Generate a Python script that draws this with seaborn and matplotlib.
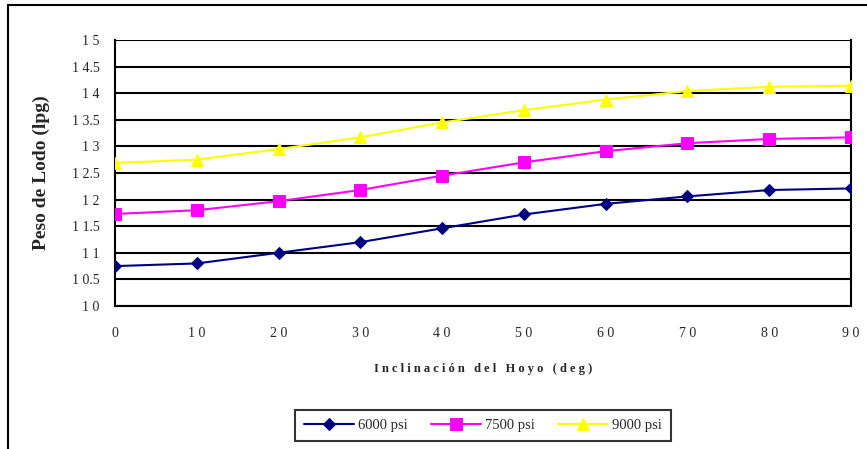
import matplotlib
matplotlib.use("Agg")
import matplotlib.pyplot as plt
import seaborn as sns
import pandas as pd
from matplotlib.patches import Rectangle

inclinacion = [0, 10, 20, 30, 40, 50, 60, 70, 80, 90]
psi_6000 = [10.75, 10.80, 11.00, 11.20, 11.46, 11.72, 11.92, 12.06, 12.18, 12.21]
psi_7500 = [11.73, 11.80, 11.97, 12.18, 12.45, 12.70, 12.91, 13.06, 13.14, 13.17]
psi_9000 = [12.69, 12.75, 12.95, 13.17, 13.45, 13.68, 13.88, 14.04, 14.12, 14.14]
series_names = ["6000 psi", "7500 psi", "9000 psi"]
y_ticks = [10, 10.5, 11, 11.5, 12, 12.5, 13, 13.5, 14, 14.5, 15]
y_tick_labels = ["1 0", "1 0.5", "1 1", "1 1.5", "1 2", "1 2.5", "1 3", "1 3.5", "1 4", "1 4.5", "1 5"]
x_ticks = [0, 10, 20, 30, 40, 50, 60, 70, 80, 90]
x_tick_labels = ["0", "1 0", "2 0", "3 0", "4 0", "5 0", "6 0", "7 0", "8 0", "9 0"]

sns.set_style("white")
plt.rcParams["font.family"] = ["Liberation Serif", "DejaVu Serif"]

fig = plt.figure(figsize=(8.67, 4.49), dpi=100)
ax = fig.add_axes([115 / 867, 1 - 306 / 449, (851 - 115) / 867, (306 - 40) / 449])

colors = ["#000080", "#FF00FF", "#FFFF00"]
markers = ["D", "s", "^"]
msizes = [6.5, 8.5, 8.5]
data = [psi_6000, psi_7500, psi_9000]
for name, vals, c, m, ms in zip(series_names, data, colors, markers, msizes):
    df = pd.DataFrame({"x": inclinacion, "y": vals})
    sns.lineplot(data=df, x="x", y="y", ax=ax, color=c, marker=m, markersize=ms,
                 markeredgecolor=c, linewidth=1.5, label=name, zorder=3)

ax.set_xlim(0, 90)
ax.set_ylim(10, 15)
ax.set_yticks(y_ticks)
ax.set_yticklabels(y_tick_labels, fontsize=10)
ax.set_xticks(x_ticks)
ax.set_xticklabels(x_tick_labels, fontsize=10)
ax.yaxis.grid(True, color="black", linewidth=1.5)
ax.xaxis.grid(False)
for s in ax.spines.values():
    s.set_color("black")
    s.set_linewidth(1.5)
ax.spines["top"].set_visible(False)
ax.tick_params(axis="both", direction="out", length=5, width=1.5, color="black", pad=6)
ax.tick_params(axis="x", pad=10)

ax.set_ylabel("Peso de Lodo (lpg)", fontsize=14, fontweight="bold", labelpad=16)
ax.set_xlabel("I n c l i n a c i ó n   d e l   H o y o   ( d e g )", fontsize=9,
              fontweight="bold", labelpad=17)

leg = ax.legend(loc="upper center", bbox_to_anchor=(0.5, -0.365), ncol=3, frameon=True,
                fancybox=False, edgecolor="black", fontsize=10.5, handlelength=3.4,
                handletextpad=0.3, columnspacing=1.6, borderpad=0.6)
leg.get_frame().set_linewidth(1.5)

fig.patches.append(Rectangle((8 / 867, -0.1), 1.2, 1.1 - 5 / 449, transform=fig.transFigure,
                             fill=False, edgecolor="black", linewidth=1.5))

fig.savefig("out.png", dpi=100)
